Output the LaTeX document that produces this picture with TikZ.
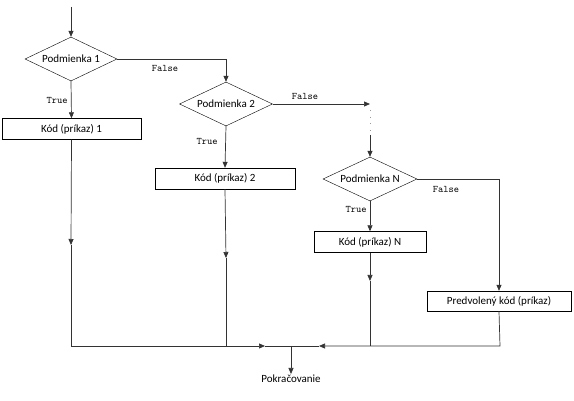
\documentclass[tikz,border=0pt]{standalone}
\usepackage{fontspec}
\setmainfont{Carlito}
\usetikzlibrary{shapes.geometric,arrows.meta}

\begin{document}
\begin{tikzpicture}[x=1pt, y=-1pt, >={Triangle[length=6pt,width=5pt]},
	line/.style = {draw=black!80, line width=0.7pt},
	decision/.style = {draw, diamond, aspect=2.1, inner sep=0pt, minimum width=92pt, minimum height=44pt, font=\fontsize{11}{13}\selectfont},
	process/.style = {draw, rectangle, inner sep=0pt, minimum height=21pt, font=\fontsize{11}{13}\selectfont},
	answer/.style = {font=\ttfamily\fontsize{10}{11}\selectfont, inner sep=0pt}]
				\useasboundingbox (0,0) rectangle (574,401);
				% conditions and code blocks
				\coordinate (start) at (71,7);
				\node[decision] (cond1) at (71,59) {Podmienka 1};
				\node[process, minimum width=139pt] (code1) at (71.5,129) {Kód (príkaz) 1};
				\node[decision, minimum width=93pt] (cond2) at (226,104) {Podmienka 2};
				\node[process, minimum width=140pt] (code2) at (225,178.5) {Kód (príkaz) 2};
				\node[decision, minimum width=94pt] (condN) at (370,179) {Podmienka N};
				\node[process, minimum width=112pt] (codeN) at (370,242) {Kód (príkaz) N};
				\node[process, minimum width=144pt, minimum height=20pt] (default) at (499,301) {Predvolený kód (príkaz)};
				\node[inner sep=1pt, anchor=north] (next) at (291,374) {\fontsize{11}{13}\selectfont Pokračovanie};
				% helper points
				\coordinate (gap) at (370,104);
				\coordinate (dotA) at (370,110);
				\coordinate (dotB) at (370,135);
				\coordinate (mid1) at (71,245);
				\coordinate (mid2) at (226,258);
				\coordinate (midN) at (370,281);
				\coordinate (low1) at (71,346);
				\coordinate (low2) at (226,346);
				\coordinate (lowN) at (370,346);
				\coordinate (lowD) at (500,346);
				\coordinate (joinL) at (265,346);
				\coordinate (joinR) at (319,346);
				\coordinate (join) at (291,346);
				% connectors
				\draw[line, ->] (start) -- (cond1.north);
				\draw[line, ->] (cond1.east) -| (cond2.north);
				\draw[line, ->] (cond1.south) -- (code1.north);
				\draw[line, ->] (cond2.east) -- (gap);
				\draw[line, ->] (cond2.south) -- (code2.north);
				\draw[draw=black!40, line width=0.7pt, dash pattern=on 0.7pt off 6pt] (dotA) -- (dotB);
				\draw[line, ->] (dotB) -- (condN.north);
				\draw[line, ->] (condN.south) -- (codeN.north);
				\draw[line, ->] (condN.east) -| (default.north);
				\draw[line, ->] (code1.south) -- (mid1);
				\draw[line, ->] (code2.south) -- (mid2);
				\draw[line, ->] (codeN.south) -- (midN);
				\draw[line, ->] (mid1) -- (low1) -- (joinL);
				\draw[line] (mid2) -- (low2);
				\draw[line] (midN) -- (lowN);
				\draw[line, ->] (default.south) -- (lowD) -- (joinR);
				\draw[line] (joinL) -- (joinR);
				\draw[line, ->] (join) -- (next.north);
				% branch labels
				\node[answer] (t1) at (57,100) {True};
				\node[answer] (f1) at (165,68) {False};
				\node[answer] (t2) at (207,141) {True};
				\node[answer] (f2) at (305,96) {False};
				\node[answer] (tN) at (356,209) {True};
				\node[answer] (fN) at (446,189) {False};
			\end{tikzpicture}
\end{document}
